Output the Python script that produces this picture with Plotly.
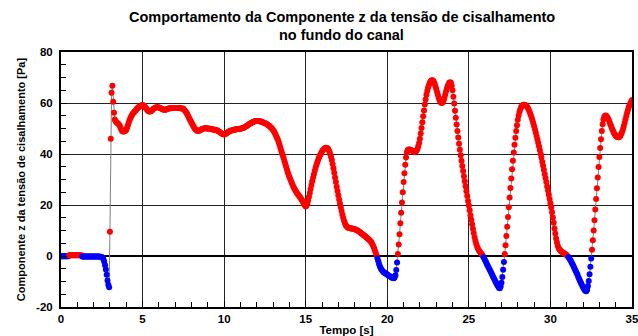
import plotly.graph_objects as go

# Shear stress z-component at the channel bed, sampled every 0.05 s (values in Pa)
DT = 0.05

tau_00_05 = [
    -0.1, -0.1, -0.1, -0.1, -0.1, -0.1, -0.1, -0.1, -0.1, -0.1, 0.3, 0.3, 0.3, 0.3, 0.3, 0.3, 0.3, 0.3, 0.3, 0.3,
    0.3, 0.3, 0.3, 0.3, 0.3, 0.3, -0.2, -0.2, -0.2, -0.2, -0.2, -0.2, -0.2, -0.2, -0.2, -0.2, -0.2, -0.2, -0.2, -0.2,
    -0.2, -0.2, -0.2, -0.2, -0.2, -0.2, -0.2, -0.2, -0.3, -0.3, -0.4, -0.7, -1.3, -2.3, -3.6, -5.3, -7.4, -9.6, -11.3, -12.3,
    9.5, 46.0, 64.0, 66.8, 60.5, 56.2, 53.5, 52.8, 52.5, 52.2, 51.9, 51.6, 51.1, 50.3, 49.5, 49.0, 48.8, 48.8, 48.9, 49.1,
    49.5, 50.3, 51.3, 52.3, 53.2, 54.0, 54.7, 55.3, 55.8, 56.2, 56.6, 57.0, 57.3, 57.7, 58.0, 58.3, 58.5, 58.7, 58.9, 59.1,
]
tau_05_10 = [
    59.2, 59.1, 58.8, 58.4, 58.0, 57.6, 57.2, 56.9, 56.7, 56.7, 56.8, 57.0, 57.3, 57.6, 57.8, 58.0, 58.2, 58.3, 58.3, 58.3,
    58.2, 58.1, 57.9, 57.8, 57.6, 57.5, 57.4, 57.4, 57.4, 57.5, 57.6, 57.7, 57.8, 57.9, 57.9, 57.9, 58.0, 58.0, 58.0, 58.0,
    58.0, 58.0, 58.0, 58.0, 58.0, 58.0, 57.9, 57.9, 57.8, 57.8, 57.7, 57.4, 57.0, 56.6, 56.1, 55.5, 54.8, 54.1, 53.5, 52.9,
    52.3, 51.7, 51.1, 50.5, 50.0, 49.6, 49.3, 49.1, 49.0, 49.1, 49.2, 49.4, 49.6, 49.8, 49.9, 50.0, 50.1, 50.1, 50.1, 50.0,
    50.0, 50.0, 49.9, 49.9, 49.8, 49.7, 49.6, 49.6, 49.5, 49.5, 49.4, 49.3, 49.1, 48.9, 48.7, 48.5, 48.2, 48.0, 47.8, 47.7,
]
tau_10_15 = [
    47.6, 47.7, 47.9, 48.1, 48.4, 48.6, 48.8, 49.0, 49.1, 49.2, 49.3, 49.4, 49.5, 49.6, 49.6, 49.7, 49.7, 49.8, 49.8, 49.9,
    49.9, 50.0, 50.1, 50.2, 50.3, 50.5, 50.7, 50.9, 51.1, 51.3, 51.6, 51.8, 52.0, 52.2, 52.4, 52.5, 52.6, 52.7, 52.8, 52.9,
    52.9, 52.9, 52.9, 52.8, 52.8, 52.7, 52.6, 52.5, 52.4, 52.3, 52.1, 52.0, 51.8, 51.6, 51.3, 51.1, 50.8, 50.5, 50.2, 49.8,
    49.4, 48.9, 48.3, 47.6, 46.9, 46.2, 45.5, 44.5, 43.5, 42.4, 41.3, 40.3, 39.3, 38.3, 37.2, 36.1, 35.0, 33.9, 32.8, 31.9,
    31.0, 30.2, 29.4, 28.6, 27.8, 27.1, 26.5, 25.9, 25.4, 24.8, 24.3, 23.9, 23.5, 23.0, 22.6, 22.1, 21.6, 21.0, 20.4, 19.8,
]
tau_15_20 = [
    19.4, 19.8, 20.5, 21.8, 23.2, 24.7, 26.3, 27.8, 29.3, 30.7, 32.0, 33.3, 34.5, 35.6, 36.6, 37.5, 38.3, 39.1, 39.8, 40.4,
    41.0, 41.5, 41.9, 42.2, 42.4, 42.5, 42.4, 42.2, 41.7, 41.0, 40.0, 38.9, 37.6, 36.1, 34.4, 32.6, 30.8, 29.0, 27.2, 25.5,
    23.8, 22.2, 20.6, 19.1, 17.6, 16.2, 14.9, 13.8, 12.9, 12.2, 11.7, 11.4, 11.1, 11.0, 10.9, 10.9, 10.8, 10.8, 10.7, 10.6,
    10.5, 10.4, 10.2, 10.1, 9.9, 9.7, 9.4, 9.2, 8.9, 8.7, 8.4, 8.2, 7.9, 7.7, 7.4, 7.2, 6.9, 6.6, 6.3, 6.0,
    5.6, 5.1, 4.4, 3.7, 2.9, 2.0, 1.1, 0.1, -1.0, -2.1, -3.2, -4.1, -4.8, -5.4, -5.8, -6.2, -6.5, -6.7, -6.9, -7.1,
]
tau_20_25 = [
    -7.3, -7.5, -7.7, -7.9, -8.1, -8.3, -8.5, -8.6, -8.7, -8.4, -7.5, -5.5, -2.5, 0.8, 4.5, 8.5, 12.8, 17.0, 21.0, 25.0,
    29.0, 32.5, 35.8, 38.6, 40.6, 41.5, 41.8, 41.8, 41.7, 41.6, 41.4, 41.2, 41.0, 40.9, 40.9, 41.0, 41.4, 42.0, 43.0, 44.3,
    46.0, 48.0, 50.2, 52.5, 54.8, 57.1, 59.4, 61.4, 63.2, 64.7, 66.0, 67.0, 67.8, 68.4, 68.8, 68.9, 68.8, 68.3, 67.6, 66.6,
    65.5, 64.3, 63.2, 62.1, 61.2, 60.5, 60.1, 60.0, 60.3, 61.0, 62.0, 63.2, 64.5, 65.6, 66.6, 67.3, 67.9, 68.1, 67.9, 66.8,
    65.0, 62.5, 59.8, 57.0, 54.2, 51.6, 49.0, 46.5, 44.0, 41.7, 39.5, 37.4, 35.3, 33.3, 31.3, 29.3, 27.4, 25.4, 23.5, 21.6,
]
tau_25_30 = [
    19.8, 17.9, 16.0, 14.2, 12.5, 10.7, 9.0, 7.4, 6.0, 4.8, 3.8, 3.0, 2.4, 1.9, 1.5, 1.0, 0.6, 0.1, -0.5, -1.1,
    -1.8, -2.4, -3.1, -3.7, -4.4, -5.0, -5.7, -6.3, -7.0, -7.6, -8.3, -8.9, -9.6, -10.2, -10.9, -11.5, -12.0, -12.5, -12.6, -12.0,
    -10.5, -8.2, -5.4, -2.4, 0.8, 4.2, 7.8, 11.5, 15.3, 19.1, 22.9, 26.7, 30.4, 34.0, 37.4, 40.6, 43.6, 46.4, 49.0, 51.3,
    53.4, 55.1, 56.5, 57.5, 58.3, 58.8, 59.1, 59.3, 59.3, 59.2, 59.0, 58.7, 58.2, 57.6, 56.9, 56.1, 55.2, 54.2, 53.2, 52.1,
    50.9, 49.7, 48.4, 47.1, 45.8, 44.4, 43.0, 41.6, 40.1, 38.6, 37.0, 35.4, 33.8, 32.2, 30.6, 29.0, 27.3, 25.7, 24.0, 22.4,
]
tau_30_35 = [
    20.7, 19.0, 17.2, 15.1, 13.0, 10.8, 8.8, 6.9, 5.3, 4.0, 3.1, 2.6, 2.2, 1.9, 1.7, 1.4, 1.2, 1.0, 0.8, 0.6,
    0.3, 0.0, -0.4, -0.9, -1.4, -1.9, -2.5, -3.1, -3.8, -4.5, -5.2, -5.9, -6.6, -7.3, -8.1, -8.8, -9.6, -10.3, -11.0, -11.7,
    -12.3, -12.8, -13.3, -13.7, -13.8, -13.2, -11.8, -9.8, -7.2, -4.2, -1.0, 2.5, 6.2, 10.0, 14.0, 18.2, 22.4, 26.6, 30.8, 34.9,
    38.8, 42.4, 45.8, 49.0, 51.7, 53.5, 54.6, 55.0, 55.1, 54.8, 54.3, 53.7, 52.9, 52.1, 51.3, 50.4, 49.6, 48.8, 48.1, 47.6,
    47.2, 46.9, 46.7, 46.6, 46.6, 46.9, 47.3, 48.0, 48.8, 49.8, 51.0, 52.3, 53.6, 54.9, 56.2, 57.3, 58.3, 59.2, 59.9, 60.6,
    61.2,
]

tau_z = tau_00_05 + tau_05_10 + tau_10_15 + tau_15_20 + tau_20_25 + tau_25_30 + tau_30_35
tempo = [round(i * DT, 2) for i in range(len(tau_z))]

x_ticks = [0, 5, 10, 15, 20, 25, 30, 35]
y_ticks = [-20, 0, 20, 40, 60, 80]

title_lines = [
    "Comportamento da Componente z da tensão de cisalhamento",
    "no fundo do canal",
]

# positive values in red, negative values in blue
point_colors = ["#ff0000" if v >= 0 else "#0000ff" for v in tau_z]

FONT = "Liberation Sans, Arial, sans-serif"

fig = go.Figure()
fig.add_trace(go.Scatter(
    x=tempo, y=tau_z, mode="lines",
    line=dict(color="#808080", width=1),
    hoverinfo="skip", showlegend=False,
))
fig.add_trace(go.Scatter(
    x=tempo, y=tau_z, mode="markers",
    marker=dict(color=point_colors, size=6, line=dict(width=0)),
    showlegend=False,
))

axis_common = dict(
    showline=True, linecolor="black", linewidth=2, mirror=True,
    showgrid=True, gridcolor="#222222", gridwidth=1,
    ticks="inside", ticklen=6, tickcolor="black", tickwidth=1,
    tickfont=dict(family=FONT, size=11.5, color="black", weight="bold"),
    automargin=False, ticklabeloverflow="allow",
)

fig.update_xaxes(
    range=[0, 35], tickvals=x_ticks, ticktext=[str(v) for v in x_ticks],
    zeroline=False,
    minor=dict(dtick=1, ticks="inside", ticklen=5, tickcolor="black", showgrid=False),
    title=dict(text="Tempo [s]", font=dict(family=FONT, size=11.5, color="black", weight="bold"), standoff=2),
    **axis_common,
)
fig.update_yaxes(
    range=[-20, 80], tickvals=y_ticks, ticktext=[str(v) for v in y_ticks],
    zeroline=True, zerolinecolor="black", zerolinewidth=2,
    minor=dict(dtick=5, ticks="inside", ticklen=5, tickcolor="black", showgrid=False),
    title=dict(text="Componente z da tensão de cisalhamento [Pa]",
               font=dict(family=FONT, size=11, color="black", weight="bold"), standoff=8),
    ticklabelstandoff=4,
    **axis_common,
)

# two-line heading placed above the plot area
title_y = [1.1373, 1.0667]
for text, ty in zip(title_lines, title_y):
    fig.add_annotation(
        text=text, xref="paper", yref="paper", x=0.492, y=ty,
        xanchor="center", yanchor="middle", showarrow=False,
        font=dict(family=FONT, size=14.5, color="black", weight="bold"),
    )

fig.update_layout(
    width=638, height=336,
    margin=dict(l=61, r=6, t=52, b=29, pad=0),
    paper_bgcolor="white", plot_bgcolor="white",
)

fig.write_html("out.html")
